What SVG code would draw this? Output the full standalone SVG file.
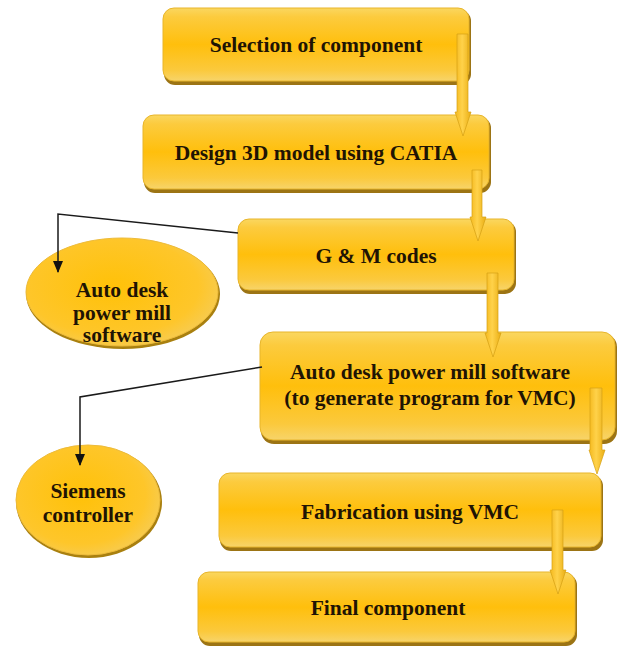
<svg xmlns="http://www.w3.org/2000/svg" width="621" height="647" viewBox="0 0 621 647">
<defs>
<linearGradient id="boxG" x1="0" y1="0" x2="0" y2="1">
<stop offset="0" stop-color="#FAD760"/>
<stop offset="0.12" stop-color="#FCCB3E"/>
<stop offset="0.5" stop-color="#FFBF0C"/>
<stop offset="0.85" stop-color="#FBC93C"/>
<stop offset="1" stop-color="#F7D46A"/>
</linearGradient>
<radialGradient id="ellG" cx="0.45" cy="0.45" r="0.6">
<stop offset="0" stop-color="#FFC108"/>
<stop offset="0.75" stop-color="#FEC62A"/>
<stop offset="1" stop-color="#F6CC55"/>
</radialGradient>
<linearGradient id="arrG" x1="0" y1="0" x2="1" y2="0">
<stop offset="0" stop-color="#F4B81C"/>
<stop offset="0.45" stop-color="#FFD24A"/>
<stop offset="1" stop-color="#EAAE14"/>
</linearGradient>
<marker id="ah" markerWidth="12" markerHeight="12" refX="11" refY="6" orient="auto" markerUnits="userSpaceOnUse">
<path d="M0,1 L12,6 L0,11 Z" fill="#111"/>
</marker>
</defs>
<style>
.sh{fill:#9C7414;}
.box{fill:url(#boxG);stroke:#E8B52A;stroke-width:1;}
.ell{fill:url(#ellG);stroke:#EDBB3A;stroke-width:1;}
.esh{fill:#A9800F;}
.t{font-family:"Liberation Serif","Times New Roman",serif;font-weight:bold;font-size:21.5px;fill:#1F1404;text-anchor:middle;}
.arr{fill:url(#arrG);stroke:#D6A114;stroke-width:0.7;}
.con{fill:none;stroke:#1a1a1a;stroke-width:1.5;}
</style>

<g id="n1">
<rect class="sh" x="164" y="10" width="307" height="75" rx="11"/>
<rect class="box" x="163" y="8" width="306" height="73" rx="11"/>
<text class="t" x="316" y="52">Selection of component</text>
</g>
<g id="n2">
<rect class="sh" x="144" y="117" width="347" height="76" rx="11"/>
<rect class="box" x="143" y="115" width="346" height="74" rx="11"/>
<text class="t" x="316" y="160">Design 3D model using CATIA</text>
</g>
<g id="n3">
<rect class="sh" x="239" y="221" width="277" height="73" rx="11"/>
<rect class="box" x="238" y="219" width="276" height="71" rx="11"/>
<text class="t" x="376" y="263">G &amp; M codes</text>
</g>
<g id="n4">
<rect class="sh" x="261" y="334" width="356" height="110" rx="13"/>
<rect class="box" x="260" y="332" width="355" height="108" rx="13"/>
<text class="t" x="430" y="379">Auto desk power mill software</text>
<text class="t" x="430" y="405">(to generate program for VMC)</text>
</g>
<g id="n5">
<rect class="sh" x="220" y="475" width="383" height="76" rx="11"/>
<rect class="box" x="219" y="473" width="382" height="74" rx="11"/>
<text class="t" x="410" y="519">Fabrication using VMC</text>
</g>
<g id="n6">
<rect class="sh" x="199" y="574" width="378" height="72" rx="11"/>
<rect class="box" x="198" y="572" width="377" height="70" rx="11"/>
<text class="t" x="388" y="615">Final component</text>
</g>
<g id="e1">
<ellipse class="esh" cx="123" cy="294" rx="97" ry="55"/>
<ellipse class="ell" cx="122" cy="292" rx="96" ry="54"/>
<text class="t" x="122" y="297">Auto desk</text>
<text class="t" x="122" y="320">power mill</text>
<text class="t" x="122" y="342">software</text>
</g>
<g id="e2">
<ellipse class="esh" cx="89" cy="502" rx="73" ry="56"/>
<ellipse class="ell" cx="88" cy="500" rx="72" ry="55"/>
<text class="t" x="88" y="498">Siemens</text>
<text class="t" x="88" y="522">controller</text>
</g>

<g id="connectors">
<path class="arr" d="M457,34 L468,34 L468,112 L471,112 L463,136 L455,112 L457,112 Z"/>
<path class="arr" d="M472,170 L482,170 L482,217 L486,217 L478,241 L470,217 L472,217 Z"/>
<path class="arr" d="M487,273 L498,273 L498,333 L501,333 L493,357 L485,333 L487,333 Z"/>
<path class="arr" d="M590,388 L602,388 L602,450 L605,450 L597,474 L589,450 L590,450 Z"/>
<path class="arr" d="M552,510 L563,510 L563,570 L566,570 L558,594 L550,570 L552,570 Z"/>
<path class="con" d="M238,233 L58,214 L58,272" marker-end="url(#ah)"/>
<path class="con" d="M262,367 L80,397 L80,465" marker-end="url(#ah)"/>
</g>
</svg>
